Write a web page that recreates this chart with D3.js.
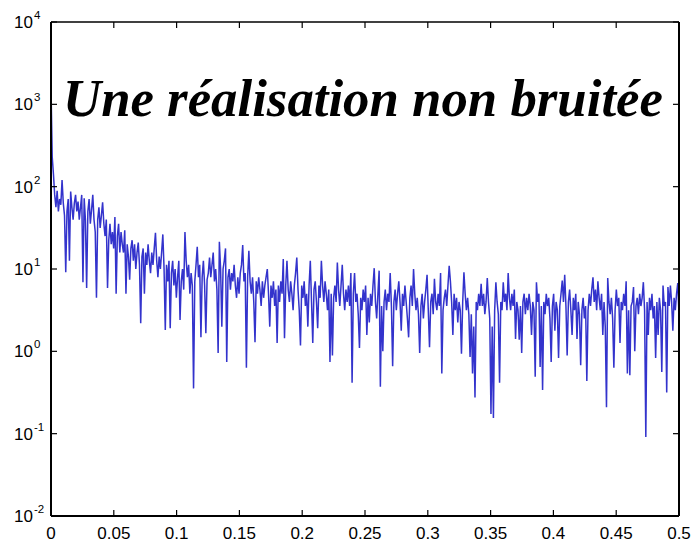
<!DOCTYPE html>
<html><head><meta charset="utf-8">
<script src="https://cdn.jsdelivr.net/npm/d3@7"></script>
<style>body{margin:0;background:#fff}</style>
</head><body>
<svg id="c" width="693" height="545"></svg>
<script>
const titleText = "Une réalisation non bruitée";
const xTicks = [0, 0.05, 0.1, 0.15, 0.2, 0.25, 0.3, 0.35, 0.4, 0.45, 0.5];
const xTickLabels = ["0", "0.05", "0.1", "0.15", "0.2", "0.25", "0.3", "0.35", "0.4", "0.45", "0.5"];
const yExponents = [-2, -1, 0, 1, 2, 3, 4];
const freqMax = 0.5;
// periodogram values as log10 of the power (512 frequency bins)
const psdLog10 = [
 3.2, 2.36, 2.15, 1.9, 1.75, 1.95, 1.7, 1.85, 1.78, 2.08,
 1.8, 1.65, 0.96, 1.7, 1.85, 1.1, 1.94, 1.75, 1.6, 1.8,
 1.9, 1.7, 1.82, 1.6, 1.75, 1.9, 0.84, 1.86, 1.6, 0.77,
 1.7, 1.85, 1.55, 1.72, 1.9, 1.6, 1.45, 0.65, 1.6, 1.75,
 1.5, 1.65, 1.81, 1.55, 1.4, 1.6, 0.77, 1.35, 1.55, 1.3,
 1.45, 1.25, 1.63, 0.7, 1.4, 1.55, 1.2, 1.45, 1.3, 1.2,
 1.47, 0.7, 1.3, 1.15, 0.87, 1.25, 1.35, 1.1, 1.3, 1.0,
 1.2, 1.32, 1.05, 0.34, 1.15, 1.25, 0.7, 1.2, 1.05, 1.3,
 1.1, 0.95, 1.2, 1.05, 1.25, 1.44, 1.1, 0.9, 1.15, 1.0,
 1.2, 1.42, 1.0, 0.26, 1.05, 0.85, 1.1, 0.28, 0.95, 1.1,
 0.8, 1.0, 0.65, 0.9, 1.1, 0.38, 0.85, 1.0, 0.75, 1.45,
 1.1, 0.9, 1.05, 0.7, 0.95, 0.8, -0.45, 0.85, 1.05, 1.27,
 0.9, 1.05, 0.17, 0.9, 1.1, 0.8, 0.22, 0.87, 0.95, 1.14,
 0.9, 1.05, 1.2, 0.85, 1.0, 0.75, -0.02, 1.33, 1.0, 0.3,
 1.0, 1.1, 1.25, -0.13, 0.9, 1.0, 0.75, 0.95, 0.85, 1.05,
 0.8, 0.65, 0.9, 0.7, 0.95, 1.05, 1.29, 0.85, 0.95, -0.2,
 0.9, 1.22, 0.85, 0.7, 0.9, 0.6, 0.11, 0.85, 0.7, 0.9,
 0.75, 0.55, 0.85, 0.65, 0.8, 0.9, 1.0, 0.7, 0.3, 0.8,
 0.65, 0.85, 0.55, 0.75, 0.1, 0.8, 0.6, 0.85, 0.7, 1.12,
 0.16, 0.8, 1.1, 0.75, 0.6, 0.85, 0.7, 0.5, 0.8, 0.95,
 1.14, 0.75, 0.5, 0.07, 0.8, 0.65, 0.85, 0.55, 0.7, 0.3,
 0.8, 1.1, 0.6, 0.1, 0.75, 0.85, 0.6, 0.28, 0.8, 0.65,
 1.1, 0.8, 0.6, 0.85, 0.7, 0.5, 0.75, -0.13, 0.7, -0.05,
 0.65, 0.8, 0.6, 1.08, 0.75, 0.55, 0.8, 1.05, 0.7, 0.5,
 0.75, 0.6, 0.8, 0.55, 0.95, -0.38, 0.7, 0.95, 0.6, 0.7,
 0.45, 0.04, 0.65, 0.5, 0.75, 0.6, 0.8, 0.2, 0.65, 0.35,
 0.7, 0.55, 0.8, 1.01, 0.6, 0.4, 0.7, 0.98, -0.43, 0.55,
 0.0, 0.6, 0.75, 0.5, 0.7, 0.6, 0.95, 0.55, -0.18, 0.6,
 0.75, 0.5, 0.7, 0.85, 0.6, 0.25, 0.7, 0.55, 0.8, 0.6,
 0.4, 0.17, 0.65, 0.8, 0.55, 1.0, 0.7, 0.5, 0.65, 0.45,
 -0.02, 0.55, 0.7, 0.4, 0.6, 0.75, 0.93, 0.5, 0.05, 0.6,
 0.7, 0.45, 0.88, 0.6, 0.5, 0.7, 0.55, 0.95, -0.27, 0.5,
 0.65, 0.75, 0.55, 0.8, 1.04, 0.85, 0.6, 0.2, 0.7, 0.5,
 0.65, 0.35, 0.6, 0.5, -0.03, 0.6, 0.96, 0.7, 0.5, 0.65,
 0.45, -0.07, 0.45, -0.27, 0.3, -0.56, 0.6, 0.5, 0.7, 0.55,
 0.82, 0.55, 0.7, 0.45, 0.6, 0.89, 0.6, 0.4, -0.76, 0.3,
 -0.81, 0.5, 0.84, 0.6, 0.45, -0.38, 0.6, 0.5, 0.84, 0.6,
 0.7, 0.5, 0.95, 0.65, 0.5, 0.7, 0.55, 0.75, 0.15, 0.6,
 0.5, 0.14, 0.55, -0.02, 0.6, 0.7, 0.45, 0.65, 0.5, 0.7,
 0.55, 0.2, 0.6, 0.5, -0.31, 0.84, 0.6, 0.7, -0.19, 0.55,
 -0.47, 0.6, 0.45, 0.7, 0.55, 0.65, 0.4, -0.13, 0.55, 0.7,
 0.25, 0.6, 0.5, -0.08, 0.55, 0.7, 0.86, 0.6, 0.93, 0.55,
 -0.05, 0.6, 0.75, 0.5, 0.2, 0.65, 0.5, 0.7, 0.15, 0.6,
 0.45, -0.17, 0.5, 0.65, 0.4, 0.55, -0.36, 0.5, 0.7, 0.55,
 0.75, 0.9, 0.6, 0.75, 0.5, 0.85, 0.65, 0.5, 0.7, 0.2,
 0.6, 0.3, -0.68, 0.89, 0.6, 0.45, 0.65, 0.4, -0.2, 0.5,
 0.75, 0.55, 0.65, 0.1, 0.6, 0.5, 0.7, 0.55, 0.85, -0.27,
 0.5, -0.29, 0.55, 0.6, 0.78, 0.0, 0.55, 0.65, 0.45, 0.7,
 0.55, 0.65, 0.84, 0.5, -1.04, 0.6, 0.2, 0.65, 0.5, 0.7,
 0.4, 0.55, -0.08, 0.6, 0.2, 0.65, 0.5, -0.25, 0.8, 0.55,
 0.6, -0.5, 0.78, 0.55, 0.8, 0.6, 0.25, 0.65, 0.5, 0.7,
 0.83, 0.45
];

const W = 693, H = 545;
const m = {left: 51, right: 679, top: 22, bottom: 516};
const svg = d3.select("#c");

const x = d3.scaleLinear().domain([0, freqMax]).range([m.left, m.right]);
const y = d3.scaleLog().domain([1e-2, 1e4]).range([m.bottom, m.top]);

const n = psdLog10.length;
const data = psdLog10.map((v, i) => ({f: i * freqMax / (n - 1), p: Math.pow(10, v)}));

// line
svg.append("path")
  .datum(data)
  .attr("fill", "none")
  .attr("stroke", "#3333cc")
  .attr("stroke-width", 1.5)
  .attr("stroke-linejoin", "miter")
  .attr("stroke-miterlimit", 4)
  .attr("d", d3.line().x(d => x(d.f)).y(d => y(d.p)));

// box frame
const frame = svg.append("g").attr("stroke", "#000").attr("fill", "none");
frame.append("line").attr("x1", m.left).attr("x2", m.right).attr("y1", m.top).attr("y2", m.top).attr("stroke-width", 1.5);
frame.append("line").attr("x1", m.left).attr("x2", m.right).attr("y1", m.bottom).attr("y2", m.bottom).attr("stroke-width", 2);
frame.append("line").attr("x1", m.left).attr("x2", m.left).attr("y1", m.top).attr("y2", m.bottom).attr("stroke-width", 2);
frame.append("line").attr("x1", m.right).attr("x2", m.right).attr("y1", m.top).attr("y2", m.bottom).attr("stroke-width", 2);

const tickLen = 6;
const fontFam = "'Liberation Sans', Arial, Helvetica, sans-serif";

// x axis ticks (inward, mirrored at top)
const xt = svg.append("g");
xTicks.forEach((t, i) => {
  const px = x(t);
  xt.append("line").attr("x1", px).attr("x2", px).attr("y1", m.bottom).attr("y2", m.bottom - tickLen).attr("stroke", "#000").attr("stroke-width", 1.2);
  xt.append("line").attr("x1", px).attr("x2", px).attr("y1", m.top).attr("y2", m.top + tickLen).attr("stroke", "#000").attr("stroke-width", 1.2);
  xt.append("text").attr("x", px).attr("y", 539).attr("text-anchor", "middle")
    .attr("font-family", fontFam).attr("font-size", 17).attr("fill", "#000").text(xTickLabels[i]);
});

// y axis ticks (inward, mirrored at right)
const yt = svg.append("g");
yExponents.forEach(e => {
  const py = y(Math.pow(10, e));
  yt.append("line").attr("x1", m.left).attr("x2", m.left + tickLen).attr("y1", py).attr("y2", py).attr("stroke", "#000").attr("stroke-width", 1.2);
  yt.append("line").attr("x1", m.right).attr("x2", m.right - tickLen).attr("y1", py).attr("y2", py).attr("stroke", "#000").attr("stroke-width", 1.2);
  const tx = yt.append("text").attr("x", 14).attr("y", py + 6)
    .attr("font-family", fontFam).attr("font-size", 17).attr("fill", "#000");
  tx.append("tspan").text("10");
  tx.append("tspan").attr("dx", 1).attr("dy", -9).attr("font-size", 11.5).text(String(e));
});

// title inside plot
const title = svg.append("text")
  .attr("x", 63).attr("y", 116)
  .attr("font-family", "'Liberation Serif', 'Times New Roman', Times, serif")
  .attr("font-weight", "bold").attr("font-style", "italic")
  .attr("font-size", 52).attr("fill", "#000")
  .text(titleText);
const w = title.node().getComputedTextLength();
title.attr("font-size", 52 * 600 / w);
</script>
</body></html>
